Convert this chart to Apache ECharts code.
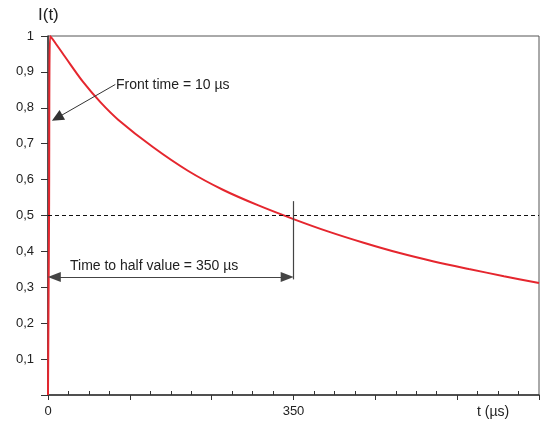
<!DOCTYPE html>
<html>
<head>
<meta charset="utf-8">
<script src="https://cdn.jsdelivr.net/npm/echarts@6/dist/echarts.min.js"></script>
<style>
html,body{margin:0;padding:0;background:#fff;}
#chart{width:550px;height:425px;}
</style>
</head>
<body>
<div id="chart"></div>
<script>
// ---- data ----
const timeUs  = [0, 1.5, 3, 10, 25, 50, 75, 100, 150, 200, 250, 300, 350, 400, 450, 500, 550, 600, 650, 700];
const current = [0, 0.5, 1, 0.982, 0.94, 0.872, 0.815, 0.767, 0.69, 0.624, 0.571, 0.528, 0.49, 0.455, 0.424, 0.396, 0.372, 0.351, 0.331, 0.312];
const xMin = 0, xMax = 700;
const xMajorStep = 350 / 3;
const xMinorPerMajor = 4;
const xLabelValues = [0, 350];
const yMin = 0, yMax = 1, yStep = 0.1;
const halfValueLevel = 0.5;
const halfArrowStart = 9;
const halfArrowEnd = 341;
const halfTime = 350;
const halfArrowLevel = 0.329;
const halfMarkerTop = 0.54;
const halfMarkerBottom = 0.322;
const frontArrowFrom = [96, 0.865];
const frontArrowTo = [13, 0.772];
const yAxisTitle = 'I(t)';
const xAxisTitle = 't (µs)';
const frontText = 'Front time = 10 µs';
const halfText = 'Time to half value = 350 µs';

const pts = timeUs.map((t, i) => [t, current[i]]);
const minorTicks = [];
for (let k = 0; k * xMajorStep < xMax - 1e-6; k++) {
  for (let j = 1; j < xMinorPerMajor; j++) minorTicks.push(k * xMajorStep + j * xMajorStep / xMinorPerMajor);
}

const FONT = 'Liberation Sans, Arial, sans-serif';
const AX = '#333';
const chart = echarts.init(document.getElementById('chart'), null, {renderer: 'canvas'});
chart.setOption({
  animation: false,
  backgroundColor: '#fff',
  grid: {left: 48, top: 36, right: 11, bottom: 30, show: true, borderColor: '#555', borderWidth: 1},
  xAxis: [{
    type: 'value', min: xMin, max: xMax, interval: xMajorStep, position: 'bottom',
    axisLine: {show: true, onZero: false, lineStyle: {color: AX, width: 1.5}},
    axisTick: {show: true, length: 5, lineStyle: {color: AX, width: 1}},
    splitLine: {show: false},
    axisLabel: {
      margin: 10, color: '#222', fontFamily: FONT, fontSize: 13, showMaxLabel: true,
      formatter: v => xLabelValues.some(x => Math.abs(x - v) < 0.5) ? String(Math.round(v)) : ''
    }
  }, {
    type: 'value', min: xMin, max: xMax, position: 'bottom', offset: 0,
    axisLine: {show: false},
    axisTick: {show: true, inside: true, length: 4, customValues: minorTicks, lineStyle: {color: AX, width: 1}},
    axisLabel: {show: false},
    splitLine: {show: false}
  }],
  yAxis: {
    type: 'value', min: yMin, max: yMax, interval: yStep,
    axisLine: {show: true, onZero: false, lineStyle: {color: AX, width: 1.5}},
    axisTick: {show: true, length: 7, lineStyle: {color: AX, width: 1}},
    splitLine: {show: false},
    axisLabel: {
      margin: 14, color: '#222', fontFamily: FONT, fontSize: 13,
      formatter: v => v === 0 ? '' : String(Math.round(v * 10) / 10).replace('.', ',')
    }
  },
  series: [{
    type: 'line', xAxisIndex: 0, data: pts, showSymbol: false, symbol: 'none',
    smooth: 0.3,
    lineStyle: {color: '#e5262e', width: 2},
    z: 3,
    markLine: {
      silent: true, animation: false, label: {show: false},
      data: [
        [{coord: [xMin, halfValueLevel], symbol: 'none', lineStyle: {color: '#111', type: [4, 3], width: 1}},
         {coord: [xMax, halfValueLevel], symbol: 'none'}],
        [{coord: [halfArrowStart, halfArrowLevel], symbol: 'triangle', symbolSize: [10, 13], symbolRotate: 90,
          lineStyle: {color: '#444', type: 'solid', width: 1.2}},
         {coord: [halfArrowEnd, halfArrowLevel], symbol: 'triangle', symbolSize: [10, 13], symbolRotate: -90}],
        [{coord: [halfTime, halfMarkerTop], symbol: 'none', lineStyle: {color: '#444', type: 'solid', width: 1.2}},
         {coord: [halfTime, halfMarkerBottom], symbol: 'none'}],
        [{coord: frontArrowFrom, symbol: 'none', lineStyle: {color: '#333', type: 'solid', width: 1}},
         {coord: frontArrowTo, symbol: 'triangle', symbolSize: [11, 12]}]
      ]
    }
  }],
  graphic: [
    {type: 'text', left: 38, top: 7, style: {text: yAxisTitle, font: '17px ' + FONT, fill: '#222'}},
    {type: 'text', left: 477, top: 405, style: {text: xAxisTitle, font: '14px ' + FONT, fill: '#222'}},
    {type: 'text', left: 116, top: 78, style: {text: frontText, font: '14px ' + FONT, fill: '#222'}},
    {type: 'text', left: 70, top: 259, style: {text: halfText, font: '14px ' + FONT, fill: '#222'}}
  ]
});
</script>
</body>
</html>
